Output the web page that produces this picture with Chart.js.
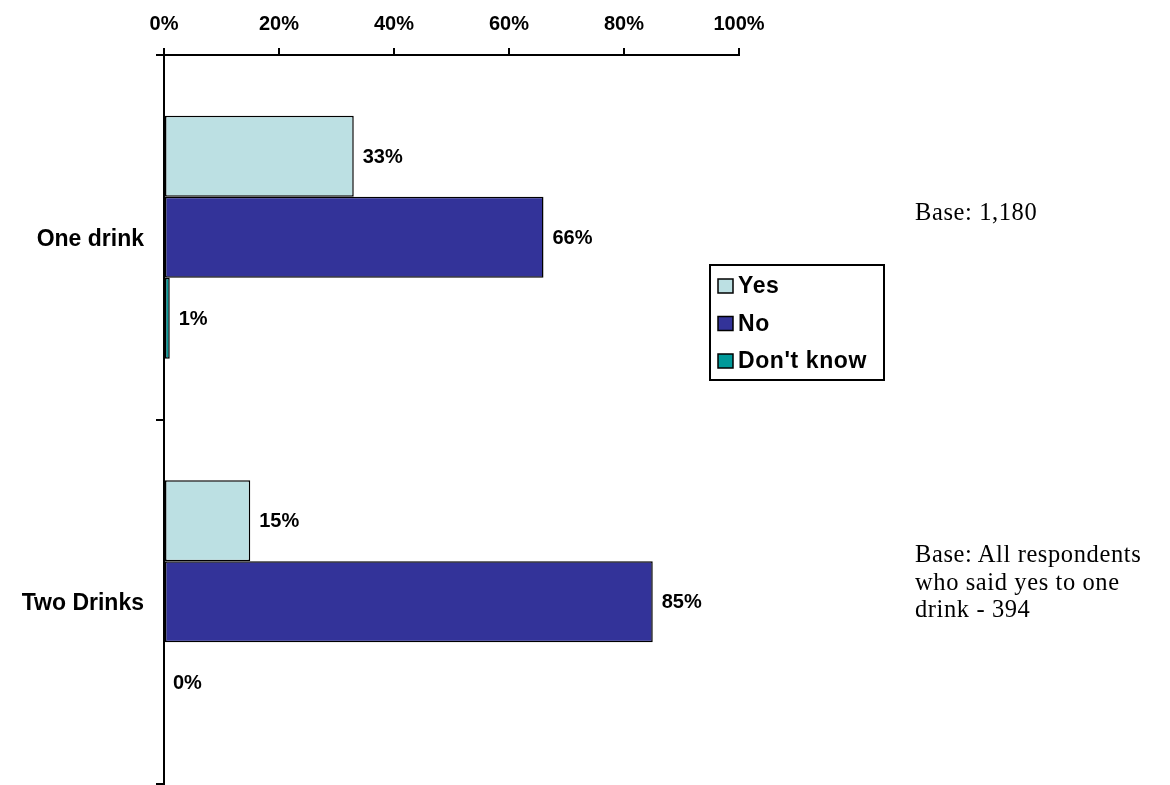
<!DOCTYPE html>
<html>
<head>
<meta charset="utf-8">
<script src="https://cdn.jsdelivr.net/npm/chart.js@4.4.0/dist/chart.umd.min.js"></script>
<style>
  html, body { margin: 0; padding: 0; background: #fff; }
  #wrap { position: relative; width: 1170px; height: 785px; overflow: hidden; }
  #wrap canvas { position: absolute; left: 0; top: 0; }
  .note {
    position: absolute; left: 915px;
    font-family: "Liberation Serif", "Times New Roman", serif;
    font-size: 24.5px; line-height: 27.5px; letter-spacing: 0.6px;
    color: #000; white-space: nowrap;
  }
</style>
</head>
<body>
<div id="wrap">
  <canvas id="c" width="1170" height="785"></canvas>
  <div class="note" style="top:198px">Base: 1,180</div>
  <div class="note" style="top:540px">Base: All respondents<br>who said yes to one<br>drink - 394</div>
</div>
<script>
// Survey answers, percent of respondents
const categories = ['One drink', 'Two Drinks'];
const seriesNames = ['Yes', 'No', "Don't know"];
const yesValues = [33, 15];
const noValues = [66, 85];
const dontKnowValues = [1, 0];
const xTickValues = [0, 20, 40, 60, 80, 100];

const seriesColors = ['#BCE0E3', '#333399', '#009999'];
const sans = '"Liberation Sans", Arial, Helvetica, sans-serif';

// Percentage text just past the end of every bar
const valueLabels = {
  id: 'valueLabels',
  afterDatasetsDraw(chart) {
    const ctx = chart.ctx;
    ctx.save();
    ctx.font = 'bold 20px ' + sans;
    ctx.fillStyle = '#000';
    ctx.textAlign = 'left';
    ctx.textBaseline = 'middle';
    chart.data.datasets.forEach((ds, i) => {
      chart.getDatasetMeta(i).data.forEach((bar, j) => {
        ctx.fillText(ds.data[j] + '%', bar.x + 9, bar.y + 1);
      });
    });
    ctx.restore();
  }
};

// Framed legend box to the right of the plot
const boxLegend = {
  id: 'boxLegend',
  afterDraw(chart) {
    const ctx = chart.ctx;
    const left = 710, top = 265, w = 174, h = 115;
    ctx.save();
    ctx.lineWidth = 2;
    ctx.strokeStyle = '#000';
    ctx.strokeRect(left, top, w, h);
    ctx.font = 'bold 23px ' + sans;
    if ('letterSpacing' in ctx) ctx.letterSpacing = '0.6px';
    ctx.textAlign = 'left';
    ctx.textBaseline = 'middle';
    chart.data.datasets.forEach((ds, i) => {
      const cy = 286 + i * 37.5;
      ctx.fillStyle = ds.backgroundColor;
      ctx.fillRect(718, cy - 7, 15, 14);
      ctx.lineWidth = 1.5;
      ctx.strokeRect(718, cy - 7, 15, 14);
      ctx.fillStyle = '#000';
      ctx.fillText(ds.label, 738, cy + 1);
    });
    ctx.restore();
  }
};

const seriesValues = [yesValues, noValues, dontKnowValues];

new Chart(document.getElementById('c'), {
  type: 'bar',
  data: {
    labels: categories,
    datasets: seriesNames.map((name, i) => ({
      label: name,
      data: seriesValues[i],
      backgroundColor: seriesColors[i],
      borderColor: '#000',
      borderWidth: 1.5,
      borderSkipped: false,
      categoryPercentage: 0.667,
      barPercentage: 1.0
    }))
  },
  options: {
    indexAxis: 'y',
    responsive: false,
    animation: false,
    devicePixelRatio: 1,
    layout: { padding: { left: 0, right: 431, top: 0, bottom: 1 } },
    plugins: {
      legend: { display: false },
      tooltip: { enabled: false }
    },
    scales: {
      x: {
        position: 'top',
        min: 0,
        max: 100,
        afterBuildTicks(scale) { scale.ticks = xTickValues.map(v => ({ value: v })); },
        afterFit(scale) {
          scale.height = 55;
          scale.paddingLeft = 0;
          scale.paddingRight = 0;
        },
        ticks: {
          callback: v => v + '%',
          color: '#000',
          font: { family: sans, size: 20, weight: 'bold' },
          padding: 12,
          maxRotation: 0
        },
        grid: { drawOnChartArea: false, drawTicks: true, tickLength: 7, color: '#000', lineWidth: 2 },
        border: { display: true, color: '#000', width: 2 }
      },
      y: {
        afterFit(scale) {
          scale.width = 164;
          scale.paddingTop = 0;
          scale.paddingBottom = 0;
        },
        ticks: {
          color: '#000',
          font: { family: sans, size: 23, weight: 'bold' },
          padding: 12,
          labelOffset: 2
        },
        grid: { drawOnChartArea: false, drawTicks: true, tickLength: 8, color: '#000', lineWidth: 2, offset: true },
        border: { display: true, color: '#000', width: 2 }
      }
    }
  },
  plugins: [valueLabels, boxLegend]
});
</script>
</body>
</html>
